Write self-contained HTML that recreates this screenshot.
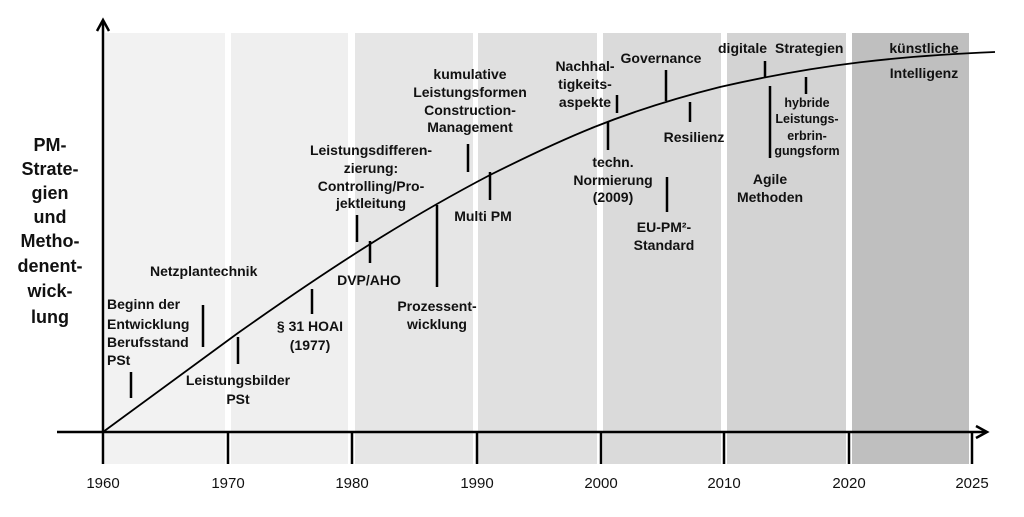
<!DOCTYPE html>
<html><head><meta charset="utf-8"><style>
body{margin:0;background:#fff}
svg{display:block}
text{font-family:"Liberation Sans",Arial,sans-serif;font-weight:bold;font-size:14px;fill:#111}
.m{text-anchor:middle}
.yr{font-weight:normal;font-size:15px;text-anchor:middle}
.yl{font-size:18px;text-anchor:middle}
.s{font-size:12.5px}
</style></head><body>
<svg width="1024" height="517" viewBox="0 0 1024 517">
<rect x="105" y="33" width="120" height="431" fill="#f2f2f2"/>
<rect x="231" y="33" width="117" height="431" fill="#efefef"/>
<rect x="355" y="33" width="118" height="431" fill="#e6e6e6"/>
<rect x="478" y="33" width="119" height="431" fill="#e0e0e0"/>
<rect x="603" y="33" width="118" height="431" fill="#dadada"/>
<rect x="727" y="33" width="119" height="431" fill="#d3d3d3"/>
<rect x="852" y="33" width="117" height="431" fill="#bfbfbf"/>
<g stroke="#000" stroke-width="2.5" fill="none">
<line x1="57" y1="432" x2="986" y2="432"/>
<polyline points="976,426 987,432 976,438"/>
<line x1="103" y1="20" x2="103" y2="464"/>
<polyline points="97,31 103,20 109,31"/>
<line x1="228" y1="432" x2="228" y2="464"/>
<line x1="352" y1="432" x2="352" y2="464"/>
<line x1="477" y1="432" x2="477" y2="464"/>
<line x1="601" y1="432" x2="601" y2="464"/>
<line x1="724" y1="432" x2="724" y2="464"/>
<line x1="849" y1="432" x2="849" y2="464"/>
<line x1="972" y1="432" x2="972" y2="464"/>
</g>
<path fill="none" stroke="#000" stroke-width="1.8" d="M103,432 L238,333 C320,275 400,222 490,175 C560,140 620,112 720,87 C820,64 900,56 995,52"/>
<g stroke="#000" stroke-width="2.5">
<line x1="131" y1="372" x2="131" y2="398"/>
<line x1="203" y1="305" x2="203" y2="347"/>
<line x1="238" y1="337" x2="238" y2="364"/>
<line x1="312" y1="289" x2="312" y2="314"/>
<line x1="357" y1="215" x2="357" y2="242"/>
<line x1="370" y1="241" x2="370" y2="263"/>
<line x1="437" y1="205" x2="437" y2="287"/>
<line x1="468" y1="144" x2="468" y2="172"/>
<line x1="490" y1="172" x2="490" y2="200"/>
<line x1="617" y1="95" x2="617" y2="113"/>
<line x1="608" y1="122" x2="608" y2="150"/>
<line x1="666" y1="70" x2="666" y2="101"/>
<line x1="690" y1="102" x2="690" y2="122"/>
<line x1="667" y1="177" x2="667" y2="212"/>
<line x1="765" y1="61" x2="765" y2="78"/>
<line x1="770" y1="86" x2="770" y2="158"/>
<line x1="806" y1="77" x2="806" y2="94"/>
</g>
<text class="yr" x="103" y="488">1960</text>
<text class="yr" x="228" y="488">1970</text>
<text class="yr" x="352" y="488">1980</text>
<text class="yr" x="477" y="488">1990</text>
<text class="yr" x="601" y="488">2000</text>
<text class="yr" x="724" y="488">2010</text>
<text class="yr" x="849" y="488">2020</text>
<text class="yr" x="972" y="488">2025</text>
<text class="yl" x="50" y="151">PM-</text>
<text class="yl" x="50" y="175">Strate-</text>
<text class="yl" x="50" y="199">gien</text>
<text class="yl" x="50" y="223">und</text>
<text class="yl" x="50" y="247">Metho-</text>
<text class="yl" x="50" y="272">denent-</text>
<text class="yl" x="50" y="297">wick-</text>
<text class="yl" x="50" y="323">lung</text>
<text x="107" y="309">Beginn der</text>
<text x="107" y="329">Entwicklung</text>
<text x="107" y="347">Berufsstand</text>
<text x="107" y="365">PSt</text>
<text x="150" y="276">Netzplantechnik</text>
<text class="m" x="238" y="385">Leistungsbilder</text>
<text class="m" x="238" y="404">PSt</text>
<text class="m" x="310" y="331">§ 31 HOAI</text>
<text class="m" x="310" y="350">(1977)</text>
<text class="m" x="371" y="155">Leistungsdifferen-</text>
<text class="m" x="371" y="173">zierung:</text>
<text class="m" x="371" y="191">Controlling/Pro-</text>
<text class="m" x="371" y="208">jektleitung</text>
<text class="m" x="369" y="285">DVP/AHO</text>
<text class="m" x="437" y="311">Prozessent-</text>
<text class="m" x="437" y="329">wicklung</text>
<text class="m" x="470" y="79">kumulative</text>
<text class="m" x="470" y="97">Leistungsformen</text>
<text class="m" x="470" y="115">Construction-</text>
<text class="m" x="470" y="132">Management</text>
<text class="m" x="483" y="221">Multi PM</text>
<text class="m" x="585" y="71">Nachhal-</text>
<text class="m" x="585" y="89">tigkeits-</text>
<text class="m" x="585" y="107">aspekte</text>
<text class="m" x="613" y="167">techn.</text>
<text class="m" x="613" y="185">Normierung</text>
<text class="m" x="613" y="202">(2009)</text>
<text class="m" x="661" y="63">Governance</text>
<text class="m" x="694" y="142">Resilienz</text>
<text class="m" x="664" y="232">EU-PM²-</text>
<text class="m" x="664" y="250">Standard</text>
<text x="718" y="53">digitale</text>
<text x="775" y="53">Strategien</text>
<text class="m" x="924" y="53">künstliche</text>
<text class="m" x="924" y="78">Intelligenz</text>
<text class="m s" x="807" y="107">hybride</text>
<text class="m s" x="807" y="123">Leistungs-</text>
<text class="m s" x="807" y="140">erbrin-</text>
<text class="m s" x="807" y="155">gungsform</text>
<text class="m" x="770" y="184">Agile</text>
<text class="m" x="770" y="202">Methoden</text>
</svg>
</body></html>
